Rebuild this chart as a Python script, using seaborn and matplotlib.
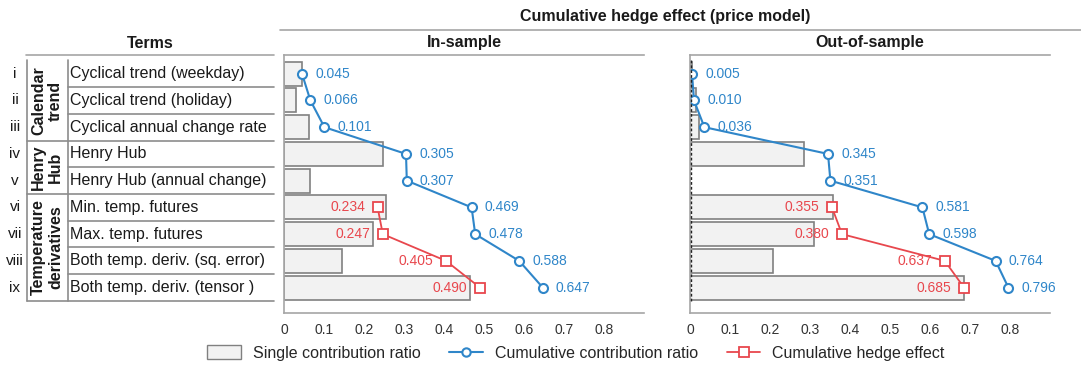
import matplotlib
matplotlib.use("Agg")
import matplotlib.pyplot as plt
import seaborn as sns
from matplotlib.lines import Line2D
from matplotlib.patches import Patch

# ---- data -------------------------------------------------------------
roman = ["i", "ii", "iii", "iv", "v", "vi", "vii", "viii", "ix"]
terms = [
    "Cyclical trend (weekday)",
    "Cyclical trend (holiday)",
    "Cyclical annual change rate",
    "Henry Hub",
    "Henry Hub (annual change)",
    "Min. temp. futures",
    "Max. temp. futures",
    "Both temp. deriv. (sq. error)",
    "Both temp. deriv. (tensor )",
]
group_names = ["Calendar\ntrend", "Henry\nHub", "Temperature\nderivatives"]
group_first = [0, 3, 5]
group_last = [2, 4, 8]

in_single = [0.045, 0.030, 0.063, 0.248, 0.066, 0.255, 0.223, 0.145, 0.465]
in_cum = [0.045, 0.066, 0.101, 0.305, 0.307, 0.469, 0.478, 0.588, 0.647]
in_hedge = [0.234, 0.247, 0.405, 0.490]

out_single = [0.004, 0.015, 0.023, 0.286, 0.001, 0.358, 0.310, 0.208, 0.685]
out_cum = [0.005, 0.010, 0.036, 0.345, 0.351, 0.581, 0.598, 0.764, 0.796]
out_hedge = [0.355, 0.380, 0.637, 0.685]

hedge_rows = [5, 6, 7, 8]

# ---- style ------------------------------------------------------------
sns.set_style("white")
plt.rcParams["font.family"] = ["Liberation Sans", "DejaVu Sans"]

BLUE = "#2f86c9"
RED = "#e8474d"
BAR_FILL = "#f2f2f2"
BAR_EDGE = "#808080"
SPINE = "#a6a6a6"
RULE = "#8c8c8c"
TXT = "#1a1a1a"

W, H = 1081, 365
fig = plt.figure(figsize=(W / 100, H / 100), dpi=100)


def fx(px):
    return px / W


def fy(py):
    return 1 - py / H


YLIM = (8.95, -0.7)
ax_top, ax_bot = 55, 313
rows = list(range(len(terms)))


def panel(left_px, single, cum, hedge, title, dashed_base=False):
    ax = fig.add_axes([fx(left_px), fy(ax_bot), 360 / W, (ax_bot - ax_top) / H])
    sns.barplot(x=single, y=terms, orient="h", ax=ax, color=BAR_FILL,
                edgecolor=BAR_EDGE, linewidth=1.2, width=0.9, saturation=1)
    sns.lineplot(x=cum, y=rows, sort=False, estimator=None, ax=ax, color=BLUE,
                 lw=1.5, marker="o", markersize=6.5, markerfacecolor="white",
                 markeredgecolor=BLUE, markeredgewidth=1.5)
    sns.lineplot(x=hedge, y=hedge_rows, sort=False, estimator=None, ax=ax,
                 color=RED, lw=1.3, marker="s", markersize=7,
                 markerfacecolor="white", markeredgecolor=RED,
                 markeredgewidth=1.3)
    if dashed_base:
        ax.plot([0.003, 0.003], [-0.5, 8.5], color="#222222", lw=1.0,
                ls=(0, (2, 1.5)), zorder=3)
    for r, v in zip(rows, cum):
        ax.annotate(f"{v:.3f}", (v, r), xytext=(9.5, 0), textcoords="offset points",
                    ha="left", va="center", color=BLUE, fontsize=10)
    for r, v in zip(hedge_rows, hedge):
        ax.annotate(f"{v:.3f}", (v, r), xytext=(-9, 0), textcoords="offset points",
                    ha="right", va="center", color=RED, fontsize=10)
    ax.set_xlim(0, 0.9)
    ax.set_ylim(*YLIM)
    ax.set_xticks([0, 0.1, 0.2, 0.3, 0.4, 0.5, 0.6, 0.7, 0.8, 0.9])
    ax.set_xticklabels(["0", "0.1", "0.2", "0.3", "0.4", "0.5", "0.6", "0.7", "0.8", ""])
    ax.set_yticks([])
    ax.set_xlabel("")
    ax.set_ylabel("")
    ax.tick_params(axis="x", direction="out", length=4, width=1, color=SPINE,
                   labelsize=10, labelcolor="#333333", pad=3)
    for s in ["left", "bottom", "top"]:
        ax.spines[s].set_visible(True)
        ax.spines[s].set_color(SPINE)
        ax.spines[s].set_linewidth(1.2)
    ax.spines["right"].set_visible(False)
    fig.text(fx(left_px + 180), fy(43), title, ha="center", va="center",
             fontsize=11.5, fontweight="bold", color=TXT)
    return ax


ax1 = panel(284, in_single, in_cum, in_hedge, "In-sample")
ax2 = panel(690, out_single, out_cum, out_hedge, "Out-of-sample", dashed_base=True)

# ---- overall header ---------------------------------------------------
fig.text(fx(665), fy(16), "Cumulative hedge effect (price model)", ha="center",
         va="center", fontsize=11.5, fontweight="bold", color=TXT)
fig.add_artist(Line2D([fx(280), fx(1081)], [fy(29.5), fy(29.5)],
                      color=SPINE, lw=1.2))

# ---- term table on the left --------------------------------------------
tab = fig.add_axes([0, fy(ax_bot), 1, (ax_bot - ax_top) / H])
tab.set_xlim(0, W)
tab.set_ylim(*YLIM)
tab.axis("off")

x0, x1, x2, x3 = 26, 27, 67.5, 274
tab.plot([x0, x3], [-0.7, -0.7], color=SPINE, lw=1.2, clip_on=False)
tab.plot([x1, x1], [-0.5, 8.5], color=RULE, lw=1.2, clip_on=False)
tab.plot([x2, x2], [-0.5, 8.5], color=RULE, lw=1.2, clip_on=False)
for b in range(len(terms)):
    yb = b + 0.5
    start = x1 if (b in group_last) else x2
    tab.plot([start, x3], [yb, yb], color=RULE, lw=1.2, clip_on=False)

fig.text(fx(150), fy(43), "Terms", ha="center", va="center", fontsize=11.5,
         fontweight="bold", color=TXT)

for r in rows:
    tab.text(15, r, roman[r], ha="center", va="center", fontsize=11, color=TXT)
    tab.text(70, r, terms[r], ha="left", va="center", fontsize=11.5, color=TXT)

for name, a, b in zip(group_names, group_first, group_last):
    tab.text((x1 + x2) / 2, (a + b) / 2, name, ha="center", va="center",
             rotation=90, fontsize=11.5, fontweight="bold", color=TXT,
             linespacing=1.15, multialignment="center")

# ---- legend -------------------------------------------------------------
handles = [
    Patch(facecolor=BAR_FILL, edgecolor=BAR_EDGE, linewidth=1.0),
    Line2D([], [], color=BLUE, lw=1.5, marker="o", markersize=6,
           markerfacecolor="white", markeredgecolor=BLUE, markeredgewidth=1.5),
    Line2D([], [], color=RED, lw=1.3, marker="s", markersize=6.5,
           markerfacecolor="white", markeredgecolor=RED, markeredgewidth=1.3),
]
labels = ["Single contribution ratio", "Cumulative contribution ratio",
          "Cumulative hedge effect"]
fig.legend(handles, labels, loc="center", bbox_to_anchor=(fx(576), fy(353)),
           ncol=3, frameon=False, fontsize=11.5, handlelength=2.1,
           handleheight=0.9, handletextpad=0.75, columnspacing=1.8)

fig.savefig("out.png", dpi=100)
